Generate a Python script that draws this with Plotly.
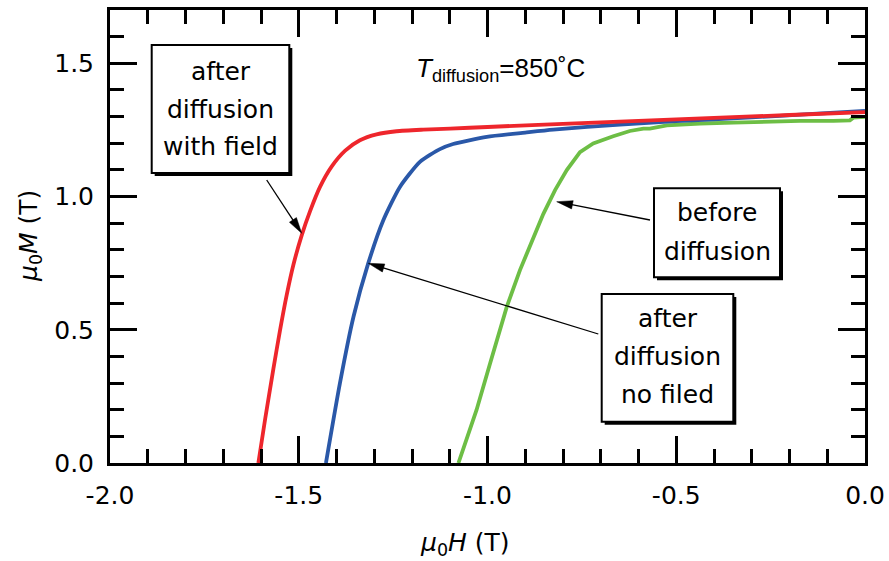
import math
import plotly.graph_objects as go

# ---- data ----
h_with_field = [-1.607, -1.589, -1.567, -1.550, -1.532, -1.514, -1.492, -1.470, -1.444, -1.413,
                -1.377, -1.338, -1.294, -1.241, -1.170, -1.099, -1.0, -0.8, -0.6, -0.4,
                -0.2, 0.0]
m_with_field = [0.0, 0.165, 0.355, 0.495, 0.630, 0.745, 0.855, 0.945, 1.035, 1.112,
                1.172, 1.211, 1.233, 1.245, 1.251, 1.255, 1.261, 1.273, 1.284, 1.295,
                1.306, 1.317]

h_no_field = [-1.428, -1.391, -1.355, -1.316, -1.276, -1.232, -1.179, -1.126, -1.091, -1.002,
              -0.9, -0.826, -0.649, -0.5, -0.3, -0.15, 0.0]
m_no_field = [0.0, 0.299, 0.549, 0.749, 0.911, 1.036, 1.130, 1.178, 1.197, 1.224,
              1.240, 1.251, 1.270, 1.283, 1.297, 1.309, 1.321]

h_before = [-1.077, -1.029, -0.993, -0.949, -0.914, -0.870, -0.852, -0.821, -0.790, -0.755,
            -0.720, -0.667, -0.623, -0.587, -0.570, -0.525, -0.437, -0.349, -0.260, -0.172,
            -0.084, -0.040, -0.031, 0.0]
m_before = [0.0, 0.199, 0.374, 0.586, 0.724, 0.880, 0.935, 1.024, 1.099, 1.167,
            1.199, 1.226, 1.246, 1.255, 1.255, 1.267, 1.274, 1.277, 1.281, 1.284,
            1.284, 1.286, 1.296, 1.299]

x_tickvals = [-2.0, -1.5, -1.0, -0.5, 0.0]
x_ticktext = ["-2.0", "-1.5", "-1.0", "-0.5", "0.0"]
y_tickvals = [0.0, 0.5, 1.0, 1.5]
y_ticktext = ["0.0", "0.5", "1.0", "1.5"]

# ---- layout geometry ----
W, H = 889, 561
L, R, T, B = 110, 24, 10, 98
X0, X1 = -2.0, 0.0
Y0, Y1 = 0.0, 1.7
PW, PH = W - L - R, H - T - B

def pxp(px):
    return (px - L) / PW

def pyp(py):
    return (H - B - py) / PH

TXT = "DejaVu Sans"

fig = go.Figure()
fig.add_trace(go.Scatter(x=h_before, y=m_before, mode="lines",
                         line=dict(color="#6dbe45", width=3.8), showlegend=False))
fig.add_trace(go.Scatter(x=h_no_field, y=m_no_field, mode="lines",
                         line=dict(color="#2a58a8", width=3.8, shape="spline", smoothing=0.6),
                         showlegend=False))
fig.add_trace(go.Scatter(x=h_with_field, y=m_with_field, mode="lines",
                         line=dict(color="#ee262c", width=3.8, shape="spline", smoothing=0.6),
                         showlegend=False))

shapes = []
annotations = []

boxes = [
    ((151.7, 45, 289.3, 173), ["after", "diffusion", "with field"], [71, 109, 146]),
    ((654, 188.3, 780, 277.3), ["before", "diffusion"], [213, 251]),
    ((601.7, 294, 733.3, 421.7), ["after", "diffusion", "no filed"], [319, 356, 394]),
]
for (x0, y0, x1, y1), lines, ys in boxes:
    shapes.append(dict(type="rect", xref="paper", yref="paper",
                       x0=pxp(x0 + 3), x1=pxp(x1 + 3), y0=pyp(y1 + 3), y1=pyp(y0 + 3),
                       fillcolor="black", line=dict(width=0), layer="above"))
    shapes.append(dict(type="rect", xref="paper", yref="paper",
                       x0=pxp(x0), x1=pxp(x1), y0=pyp(y1), y1=pyp(y0),
                       fillcolor="white", line=dict(color="black", width=2), layer="above"))
    for txt, yy in zip(lines, ys):
        annotations.append(dict(text=txt, xref="paper", yref="paper",
                                x=pxp((x0 + x1) / 2), y=pyp(yy), xanchor="center", yanchor="middle",
                                showarrow=False, font=dict(family=TXT, size=25, color="black")))

# pointer arrows: (tip), (tail) in pixel positions of the figure
arrows = [
    ((301.7, 233.3), (266.7, 180)),
    ((556.7, 201.7), (650, 220)),
    ((368.3, 263.3), (598.3, 334)),
]
HEAD_LEN, HEAD_HALF = 16, 4.2
for (tx, ty), (sx, sy) in arrows:
    dx, dy = tx - sx, ty - sy
    d = math.hypot(dx, dy)
    ux, uy = dx / d, dy / d
    bx, by = tx - ux * HEAD_LEN, ty - uy * HEAD_LEN
    nx, ny = -uy, ux
    shapes.append(dict(type="line", xref="paper", yref="paper",
                       x0=pxp(sx), y0=pyp(sy), x1=pxp(bx + ux * 2), y1=pyp(by + uy * 2),
                       line=dict(color="black", width=1.3), layer="above"))
    p1 = (bx + nx * HEAD_HALF, by + ny * HEAD_HALF)
    p2 = (bx - nx * HEAD_HALF, by - ny * HEAD_HALF)
    path = "M {:.5f},{:.5f} L {:.5f},{:.5f} L {:.5f},{:.5f} Z".format(
        pxp(tx), pyp(ty), pxp(p1[0]), pyp(p1[1]), pxp(p2[0]), pyp(p2[1]))
    shapes.append(dict(type="path", xref="paper", yref="paper", path=path,
                       fillcolor="black", line=dict(color="black", width=0.5), layer="above"))

annotations.append(dict(text="<i>T</i><sub>diffusion</sub>=850˚C", xref="paper", yref="paper",
                        x=pxp(414), y=pyp(69), xanchor="left", yanchor="middle", showarrow=False,
                        font=dict(family="Liberation Sans", size=26, color="black")))

annotations.append(dict(text="<i>μ</i><sub>0</sub><i>H</i> (T)", xref="paper", yref="paper",
                        x=pxp(465), y=pyp(544), xanchor="center", yanchor="middle", showarrow=False,
                        font=dict(family=TXT, size=25, color="black")))
annotations.append(dict(text="<i>μ</i><sub>0</sub><i>M</i> (T)", xref="paper", yref="paper",
                        x=pxp(30), y=pyp(236), xanchor="center", yanchor="middle", showarrow=False,
                        textangle=-90, font=dict(family=TXT, size=25, color="black")))

axis_common = dict(showline=True, linewidth=3, linecolor="black", mirror="allticks",
                   ticks="inside", ticklen=27, tickwidth=2.5, tickcolor="black",
                   showgrid=False, zeroline=False, automargin=False,
                   tickfont=dict(family=TXT, size=25, color="black"))

fig.update_layout(
    template="none",
    width=W, height=H,
    margin=dict(l=L, r=R, t=T, b=B, pad=0, autoexpand=False),
    paper_bgcolor="white", plot_bgcolor="white",
    xaxis=dict(range=[X0, X1], tickmode="array", tickvals=x_tickvals, ticktext=x_ticktext,
               minor=dict(dtick=0.1, tick0=0, ticks="inside", ticklen=14, tickwidth=2.5,
                          tickcolor="black"),
               ticklabelstandoff=8, **axis_common),
    yaxis=dict(range=[Y0, Y1], tickmode="array", tickvals=y_tickvals, ticktext=y_ticktext,
               minor=dict(dtick=0.1, tick0=0, ticks="inside", ticklen=14, tickwidth=2.5,
                          tickcolor="black"),
               ticklabelstandoff=8, **axis_common),
    shapes=shapes, annotations=annotations,
)

fig.write_html("out.html", config={"displayModeBar": False},
               post_script="document.body.style.margin='0px';document.body.style.overflow='hidden';")
